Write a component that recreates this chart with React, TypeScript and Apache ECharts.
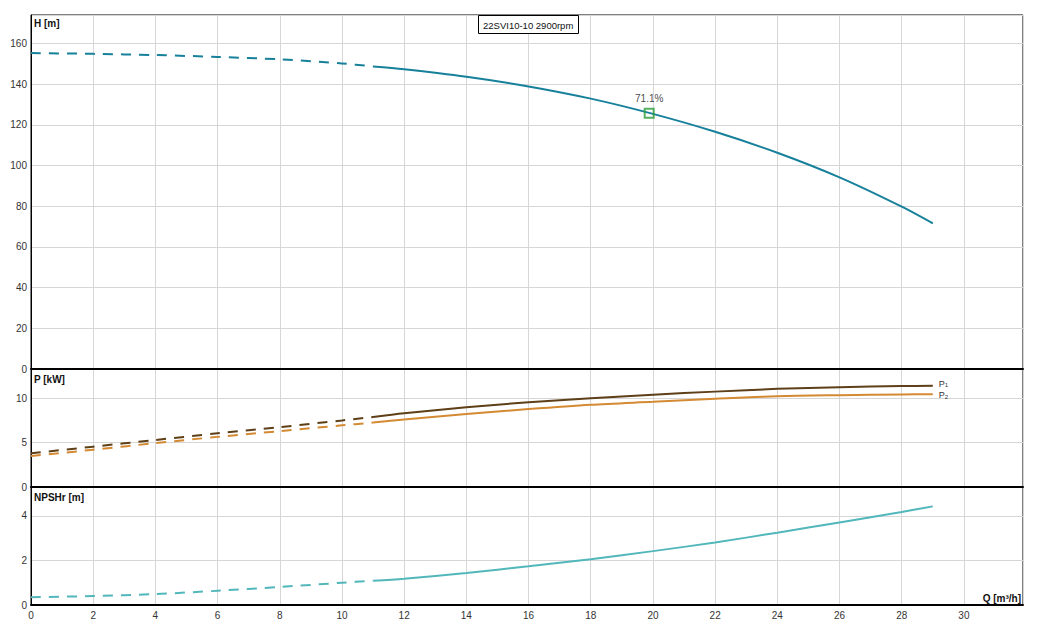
import React, { useEffect, useRef } from "react";
import * as echarts from "echarts";

// Flow Q [m³/h]
const qDashed = [0, 2, 4, 6, 8, 10, 11];
const qSolid = [11, 12, 14, 16, 18, 20, 22, 24, 26, 28, 29];

// Head H [m]
const hDashed = [155.3, 154.9, 154.3, 153.4, 152.2, 150.2, 148.7];
const hSolid = [148.7, 147.3, 143.6, 138.9, 132.9, 125.4, 116.6, 106.3, 94.2, 79.8, 71.6];

// Power P1 / P2 [kW]
const p1Dashed = [3.8, 4.55, 5.3, 6.05, 6.75, 7.5, 7.89];
const p1Solid = [7.89, 8.3, 8.98, 9.55, 10.0, 10.41, 10.75, 11.06, 11.25, 11.37, 11.4];
const p2Dashed = [3.5, 4.2, 4.95, 5.65, 6.3, 6.95, 7.26];
const p2Solid = [7.26, 7.61, 8.22, 8.78, 9.27, 9.61, 9.95, 10.23, 10.35, 10.43, 10.45];

// NPSHr [m]
const npshDashed = [0.35, 0.4, 0.49, 0.64, 0.81, 1.0, 1.09];
const npshSolid = [1.09, 1.18, 1.44, 1.74, 2.06, 2.42, 2.81, 3.25, 3.71, 4.18, 4.43];

// Best efficiency point
const bepQ = 19.88;
const bepH = 125.7;
const bepLabel = "71.1%";

const titleText = "22SVI10-10 2900rpm";
const axisNames = { h: "H [m]", p: "P [kW]", npsh: "NPSHr [m]", q: "Q [m³/h]" };
const powerSubscripts = ["1", "2"];

const FONT = 'Arial, "Liberation Sans", sans-serif';
const C_H = "#17809b";
const C_P1 = "#5e3f17";
const C_P2 = "#d48a33";
const C_NPSH = "#52b7bb";
const C_GRID = "#d6d6d6";

function zip(xs: number[], ys: number[]) {
  return xs.map((x, i) => [x, ys[i]]);
}

export default function App() {
  const ref = useRef<HTMLDivElement>(null);

  useEffect(() => {
    document.body.style.margin = "0";
    if (!ref.current) return;
    const chart = echarts.init(ref.current, undefined, { renderer: "svg" });

    const gridLeft = 31;
    const gridWidth = 992;
    const grids = [
      { left: gridLeft, top: 15, width: gridWidth, height: 354 },
      { left: gridLeft, top: 369, width: gridWidth, height: 118 },
      { left: gridLeft, top: 487, width: gridWidth, height: 118 },
    ].map((g) => ({ ...g, show: true, borderColor: "#000", borderWidth: 1, backgroundColor: "#fff" }));

    const xAxisBase = (gi: number) => ({
      type: "value",
      gridIndex: gi,
      min: 0,
      max: 31.9,
      interval: 2,
      axisLine: { show: true, lineStyle: { color: "#000", width: 2 } },
      axisTick: { show: false },
      splitLine: { show: true, lineStyle: { color: C_GRID, width: 1 } },
      axisLabel: {
        show: gi === 2,
        color: "#333",
        fontSize: 10,
        fontFamily: FONT,
        margin: 5,
        formatter: (v: number) => (Math.abs(v - Math.round(v / 2) * 2) < 1e-6 ? String(v) : ""),
      },
    });

    const yAxisBase = (gi: number, max: number, interval: number) => ({
      type: "value",
      gridIndex: gi,
      min: 0,
      max,
      interval,
      axisLine: { show: true, lineStyle: { color: "#000", width: 1 } },
      axisTick: { show: false },
      splitLine: { show: true, lineStyle: { color: C_GRID, width: 1 } },
      axisLabel: {
        color: "#333",
        fontSize: 10,
        fontFamily: FONT,
        margin: 4,
        formatter: (v: number) =>
          Math.abs(v - Math.round(v / interval) * interval) < 1e-6 ? String(v) : "",
      },
    });

    const lineSeries = (
      name: string,
      gi: number,
      xs: number[],
      ys: number[],
      color: string,
      dashed: boolean,
      sub?: string,
      labelDy = 0
    ) => ({
      name,
      type: "line",
      xAxisIndex: gi,
      yAxisIndex: gi,
      data: zip(xs, ys),
      smooth: 0.3,
      showSymbol: false,
      symbol: "none",
      silent: true,
      lineStyle: { color, width: 2, type: dashed ? [10, 8] : "solid" },
      itemStyle: { color },
      endLabel: sub
        ? {
            show: true,
            distance: 6,
            offset: [0, labelDy],
            formatter: `{a|P}{b|${sub}}`,
            rich: {
              a: { fontSize: 9, lineHeight: 9, fontFamily: FONT, color: "#333" },
              b: { fontSize: 6, lineHeight: 6, fontFamily: FONT, color: "#333", verticalAlign: "bottom" },
            },
          }
        : { show: false },
      z: 3,
    });

    const option: any = {
      animation: false,
      backgroundColor: "#fff",
      title: {
        text: titleText,
        left: 478,
        top: 15,
        padding: [5, 5, 4, 5],
        borderColor: "#000",
        borderWidth: 1,
        backgroundColor: "#fff",
        textStyle: { fontSize: 9.5, fontWeight: "normal", color: "#111", fontFamily: FONT },
      },
      grid: grids,
      xAxis: [xAxisBase(0), xAxisBase(1), xAxisBase(2)],
      yAxis: [yAxisBase(0, 174, 20), yAxisBase(1, 13.3, 5), yAxisBase(2, 5.3, 2)],
      series: [
        lineSeries("H dashed", 0, qDashed, hDashed, C_H, true),
        lineSeries("H", 0, qSolid, hSolid, C_H, false),
        lineSeries("P1 dashed", 1, qDashed, p1Dashed, C_P1, true),
        lineSeries("P1", 1, qSolid, p1Solid, C_P1, false, powerSubscripts[0], -2),
        lineSeries("P2 dashed", 1, qDashed, p2Dashed, C_P2, true),
        lineSeries("P2", 1, qSolid, p2Solid, C_P2, false, powerSubscripts[1], 1),
        lineSeries("NPSHr dashed", 2, qDashed, npshDashed, C_NPSH, true),
        lineSeries("NPSHr", 2, qSolid, npshSolid, C_NPSH, false),
        {
          name: "BEP",
          type: "scatter",
          xAxisIndex: 0,
          yAxisIndex: 0,
          data: [[bepQ, bepH]],
          symbol: "rect",
          symbolSize: 9,
          silent: true,
          itemStyle: { color: "rgba(255,255,255,0)", borderColor: "#2a9d3a", borderWidth: 2 },
          label: {
            show: true,
            position: "top",
            distance: 4,
            formatter: bepLabel,
            fontSize: 10,
            fontFamily: FONT,
            color: "#111",
          },
          z: 5,
        },
      ],
      graphic: [
        { type: "text", left: 34, top: 18, style: { text: axisNames.h, font: `bold 10px ${FONT}`, fill: "#111" } },
        { type: "text", left: 34, top: 374, style: { text: axisNames.p, font: `bold 10px ${FONT}`, fill: "#111" } },
        { type: "text", left: 34, top: 492, style: { text: axisNames.npsh, font: `bold 10px ${FONT}`, fill: "#111" } },
        { type: "text", right: 18, top: 593, style: { text: axisNames.q, font: `bold 10px ${FONT}`, fill: "#111" } },
      ],
    };

    chart.setOption(option);
    return () => chart.dispose();
  }, []);

  return <div ref={ref} style={{ width: 1039, height: 632 }} />;
}
